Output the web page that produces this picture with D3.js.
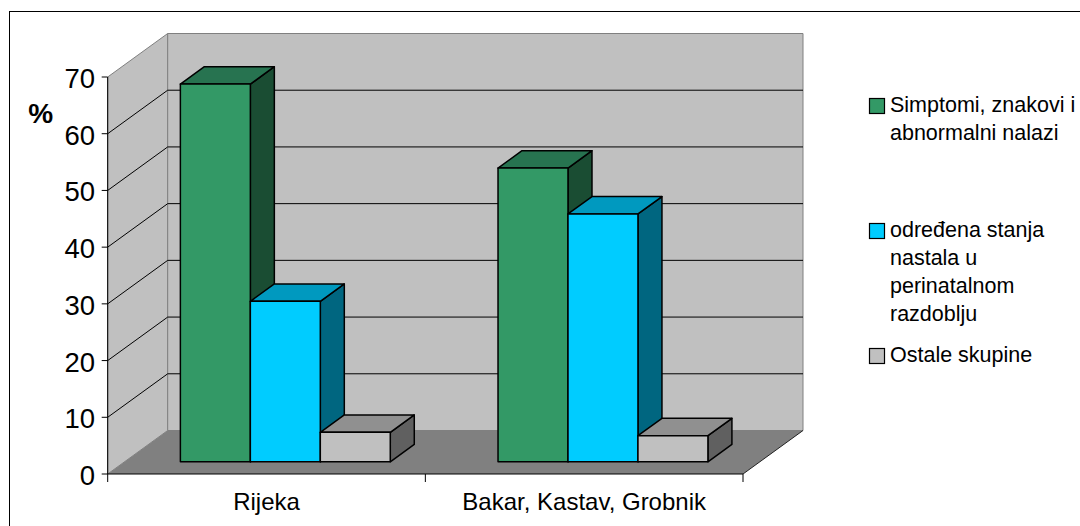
<!DOCTYPE html>
<html>
<head>
<meta charset="utf-8">
<script src="https://cdn.jsdelivr.net/npm/d3@7"></script>
<style>
  body { margin: 0; background: #fff; }
  text { font-family: "Liberation Sans", Arial, sans-serif; fill: #000; }
</style>
</head>
<body>
<div id="container"></div>
<script>
"use strict";

var categories = ["Rijeka", "Bakar, Kastav, Grobnik"];
var series = ["Simptomi, znakovi i abnormalni nalazi", "određena stanja nastala u perinatalnom razdoblju", "Ostale skupine"];
var seriesLines = [["Simptomi, znakovi i", "abnormalni nalazi"], ["određena stanja", "nastala u", "perinatalnom", "razdoblju"], ["Ostale skupine"]];
var simptomi = [66.6, 51.8];
var perinatalno = [28.3, 43.7];
var ostale = [5.2, 4.6];
var yTicks = [0, 10, 20, 30, 40, 50, 60, 70];

var values = [simptomi, perinatalno, ostale];
// front, top, side colours for each series
var colors = [
    ["#339966", "#277350", "#1a4d33"],
    ["#00ccff", "#0099bf", "#006680"],
    ["#c0c0c0", "#909090", "#606060"]
];

var width = 1080, height = 526;
var depthX = 60, depthY = 43.5;
var zFront = 0.28, zBack = 0.68;

var svg = d3.select("#container").append("svg").attr("width", width).attr("height", height);

// outer frame
svg.append("rect").attr("x", 9.5).attr("y", 11.5).attr("width", 1100).attr("height", 600)
    .attr("fill", "#fff").attr("stroke", "#000");

var y = d3.scaleLinear().domain([0, 70]).range([474, 77]);
var x = d3.scaleBand().domain(categories).range([107.7, 743]);
var xs = d3.scaleBand().domain(d3.range(series.length)).range([2, x.bandwidth() + 2]).paddingInner(0).paddingOuter(0.77);

function P(px, v, z) {
    return [px + depthX * z, y(v) - depthY * z];
}
function poly(pts) {
    return "M" + pts.map(function (p) { return p.join(","); }).join("L") + "Z";
}

var x0 = x.range()[0], x1 = x.range()[1];
var vMax = y.domain()[1];

// side wall
svg.append("path").attr("d", poly([P(x0, 0, 0), P(x0, 0, 1), P(x0, vMax, 1), P(x0, vMax, 0)]))
    .attr("fill", "#c0c0c0").attr("stroke", "#808080");
// back wall
svg.append("path").attr("d", poly([P(x0, 0, 1), P(x1, 0, 1), P(x1, vMax, 1), P(x0, vMax, 1)]))
    .attr("fill", "#c0c0c0").attr("stroke", "#808080");
// floor
svg.append("path").attr("d", poly([P(x0, 0, 0), P(x1, 0, 0), P(x1, 0, 1), P(x0, 0, 1)]))
    .attr("fill", "#808080").attr("stroke", "none");
svg.append("path").attr("d", "M" + P(x1, 0, 0) + "L" + P(x1, 0, 1))
    .attr("stroke", "#222").attr("fill", "none");

// gridlines
var grid = yTicks.filter(function (t) { return t > 0 && t < vMax; });
svg.selectAll("path.gridback").data(grid).enter().append("path").attr("class", "gridback")
    .attr("d", function (t) { return "M" + P(x0, t, 1) + "L" + P(x1, t, 1); })
    .attr("stroke", "#000").attr("fill", "none");
svg.selectAll("path.gridside").data(grid).enter().append("path").attr("class", "gridside")
    .attr("d", function (t) { return "M" + P(x0, t, 0) + "L" + P(x0, t, 1); })
    .attr("stroke", "#000").attr("fill", "none");

// axes
svg.append("path").attr("d", "M" + [x0, y(vMax)] + "L" + [x0, y(0)] + "L" + [x1, y(0)])
    .attr("stroke", "#000").attr("fill", "none");
svg.selectAll("path.ytick").data(yTicks).enter().append("path").attr("class", "ytick")
    .attr("d", function (t) { return "M" + [x0 - 6, y(t)] + "L" + [x0, y(t)]; })
    .attr("stroke", "#000");
svg.selectAll("text.ylab").data(yTicks).enter().append("text").attr("class", "ylab")
    .attr("x", 95).attr("y", function (t) { return y(t) + 11; })
    .attr("text-anchor", "end").attr("font-size", 27.5).text(function (t) { return t; });

var catEdges = [x0].concat(categories.map(function (c) { return x(c) + x.bandwidth(); }));
svg.selectAll("path.xtick").data(catEdges).enter().append("path").attr("class", "xtick")
    .attr("d", function (px) { return "M" + [px, y(0)] + "L" + [px, y(0) + 8]; })
    .attr("stroke", "#000");
svg.selectAll("text.xlab").data(categories).enter().append("text").attr("class", "xlab")
    .attr("x", function (c) { return x(c) + x.bandwidth() / 2; }).attr("y", 510)
    .attr("text-anchor", "middle").attr("font-size", 24).text(function (c) { return c; });

svg.append("text").attr("x", 40.8).attr("y", 123).attr("text-anchor", "middle")
    .attr("font-size", 28).attr("font-weight", "bold").text("%");

// bars
var bars = [];
categories.forEach(function (c, ci) {
    values.forEach(function (vals, si) {
        bars.push({ cat: c, s: si, v: vals[ci] });
    });
});
var bar = svg.selectAll("g.bar").data(bars).enter().append("g").attr("class", "bar");
bar.each(function (d) {
    var g = d3.select(this);
    var l = x(d.cat) + xs(d.s), r = l + xs.bandwidth();
    g.append("path").attr("d", poly([P(r, 0, zFront), P(r, 0, zBack), P(r, d.v, zBack), P(r, d.v, zFront)]))
        .attr("fill", colors[d.s][2]).attr("stroke", "#000").attr("stroke-width", 1.5).attr("stroke-linejoin", "round");
    g.append("path").attr("d", poly([P(l, d.v, zFront), P(r, d.v, zFront), P(r, d.v, zBack), P(l, d.v, zBack)]))
        .attr("fill", colors[d.s][1]).attr("stroke", "#000").attr("stroke-width", 1.5).attr("stroke-linejoin", "round");
    g.append("path").attr("d", poly([P(l, 0, zFront), P(r, 0, zFront), P(r, d.v, zFront), P(l, d.v, zFront)]))
        .attr("fill", colors[d.s][0]).attr("stroke", "#000").attr("stroke-width", 1.5).attr("stroke-linejoin", "round");
});

// legend
var legend = svg.selectAll("g.legend").data(series).enter().append("g").attr("class", "legend")
    .attr("transform", function (d, i) { return "translate(869.5," + (98.5 + i * 125) + ")"; });
legend.append("rect").attr("width", 15).attr("height", 15)
    .attr("fill", function (d, i) { return colors[i][0]; }).attr("stroke", "#000").attr("stroke-width", 1.2);
legend.each(function (d, i) {
    d3.select(this).selectAll("text").data(seriesLines[i]).enter().append("text")
        .attr("x", 20.5).attr("y", function (t, j) { return 13.5 + j * 28; })
        .attr("font-size", 21.5).text(function (t) { return t; });
});
</script>
</body>
</html>
